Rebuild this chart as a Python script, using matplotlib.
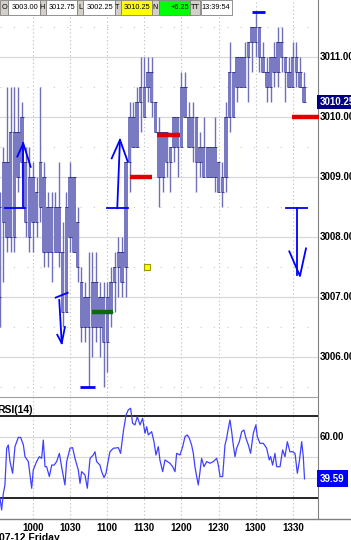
import matplotlib
matplotlib.use("Agg")
import matplotlib.pyplot as plt
import matplotlib.transforms as mtrans
from matplotlib.patches import Rectangle

plt.rcParams['font.family'] = ['Liberation Sans', 'DejaVu Sans']

W, H, DPI = 351, 540, 100

# 3-minute bars, 09:33 .. 13:39 (minutes since midnight)
bar_start = 9 * 60 + 33
bar_step = 3
opens = [3007.0, 3008.25, 3009.25, 3008.0, 3009.75, 3009.0, 3010.0, 3009.25, 3008.0, 3009.0,
         3008.25, 3008.5, 3009.0, 3007.75, 3008.5, 3007.75, 3008.5, 3007.75, 3006.75, 3008.0,
         3009.0, 3008.25, 3007.25, 3006.5, 3007.0, 3006.5, 3007.25, 3006.5, 3007.0, 3006.25,
         3006.75, 3007.25, 3007.5, 3007.75, 3007.5, 3009.25, 3010.0, 3009.5, 3010.25, 3010.0,
         3010.5, 3010.75, 3010.25, 3009.75, 3009.0, 3009.75, 3009.25, 3009.5, 3010.0, 3009.5,
         3010.5, 3010.0, 3009.5, 3010.0, 3009.25, 3009.5, 3009.0, 3009.5, 3009.0, 3009.25,
         3008.75, 3009.0, 3010.0, 3010.75, 3010.5, 3011.0, 3010.5, 3011.0, 3011.25, 3011.5,
         3011.5, 3011.0, 3010.75, 3010.5, 3011.0, 3010.75, 3011.25, 3011.0, 3010.75, 3010.5,
         3011.0, 3010.75, 3010.5]
highs = [3008.75, 3009.5, 3010.5, 3010.5, 3010.5, 3010.5, 3010.25, 3009.5, 3009.5, 3009.25,
         3009.0, 3010.5, 3009.25, 3008.75, 3008.75, 3008.75, 3009.25, 3008.25, 3008.75, 3009.25,
         3009.0, 3008.5, 3007.5, 3007.25, 3007.75, 3007.75, 3007.75, 3007.25, 3007.25, 3007.25,
         3007.5, 3007.75, 3008.0, 3008.0, 3009.25, 3010.25, 3010.25, 3010.5, 3011.0, 3011.0,
         3011.0, 3011.0, 3010.25, 3010.0, 3009.75, 3009.75, 3009.5, 3010.0, 3010.0, 3010.75,
         3010.75, 3010.25, 3010.25, 3010.0, 3009.75, 3010.0, 3009.5, 3009.5, 3010.0, 3009.25,
         3009.25, 3010.25, 3011.25, 3010.75, 3011.0, 3011.0, 3011.25, 3011.25, 3011.5, 3011.75,
         3011.5, 3011.25, 3011.0, 3011.0, 3011.25, 3011.5, 3011.5, 3011.0, 3011.0, 3011.25,
         3011.25, 3011.0, 3010.75]
lows = [3006.5, 3007.25, 3007.75, 3007.75, 3007.75, 3008.75, 3009.0, 3008.0, 3007.75, 3007.75,
        3008.0, 3008.25, 3007.5, 3007.5, 3007.25, 3007.75, 3007.5, 3006.5, 3006.75, 3007.75,
        3007.75, 3007.25, 3006.25, 3006.25, 3005.5, 3006.0, 3006.25, 3006.0, 3005.5, 3005.75,
        3006.5, 3006.75, 3007.0, 3007.0, 3007.0, 3008.75, 3009.5, 3009.5, 3009.75, 3010.0,
        3010.25, 3010.0, 3009.75, 3008.5, 3008.75, 3009.0, 3008.75, 3009.25, 3009.0, 3009.5,
        3010.0, 3009.5, 3009.25, 3008.75, 3009.0, 3009.0, 3009.0, 3009.0, 3008.75, 3008.75,
        3008.5, 3008.75, 3009.75, 3010.0, 3010.25, 3010.5, 3010.5, 3010.25, 3010.75, 3011.0,
        3010.75, 3010.75, 3010.25, 3010.25, 3010.5, 3010.5, 3010.75, 3010.25, 3010.5, 3010.5,
        3010.5, 3010.5, 3010.25]
closes = [3008.5, 3009.25, 3008.0, 3009.75, 3008.0, 3009.75, 3009.25, 3008.25, 3009.0, 3008.25,
          3008.75, 3009.25, 3007.75, 3008.5, 3007.75, 3008.5, 3007.75, 3006.75, 3008.5, 3009.0,
          3007.75, 3007.5, 3006.5, 3007.0, 3006.5, 3007.25, 3006.5, 3007.0, 3006.25, 3007.0,
          3007.25, 3007.5, 3007.75, 3007.25, 3009.25, 3010.0, 3009.5, 3010.25, 3010.5, 3010.5,
          3010.75, 3010.25, 3009.75, 3009.0, 3009.75, 3009.25, 3009.5, 3010.0, 3009.5, 3010.5,
          3010.0, 3009.5, 3010.0, 3009.25, 3009.5, 3009.0, 3009.5, 3009.0, 3009.5, 3008.75,
          3009.0, 3010.0, 3010.75, 3010.0, 3011.0, 3010.5, 3011.0, 3011.25, 3011.5, 3011.25,
          3011.0, 3010.75, 3010.5, 3011.0, 3010.75, 3011.25, 3011.0, 3010.75, 3010.5, 3011.0,
          3010.75, 3010.5, 3010.25]

# RSI(14) line, traced (time in minutes since midnight, value)
rsi_t = [573.3, 574.6, 576.0, 577.3, 578.7, 580.0, 581.4, 583.5, 585.4, 588.1, 590.0, 592.2,
         593.5, 596.2, 598.9, 600.2, 602.9, 605.1, 607.0, 608.3, 609.7, 611.0, 613.2, 615.1,
         617.0, 619.1, 621.3, 623.1, 625.8, 627.2, 629.9, 632.0, 633.9, 636.6, 638.0, 639.3,
         642.0, 643.9, 646.1, 648.7, 650.1, 651.4, 654.1, 655.5, 657.4, 659.0, 660.9, 662.2,
         664.9, 669.0, 670.8, 673.0, 675.2, 677.0, 678.9, 680.5, 682.4, 684.3, 686.5, 688.6,
         690.5, 691.9, 693.2, 695.9, 697.8, 699.4, 701.3, 702.6, 704.8, 706.7, 708.6, 710.7,
         712.9, 714.8, 716.1, 718.8, 721.0, 722.9, 724.7, 726.4, 728.2, 729.6, 730.9, 732.3,
         733.6, 735.0, 736.3, 738.2, 740.4, 743.1, 745.8, 748.5, 749.8, 751.2, 753.3, 755.2,
         756.5, 757.9, 759.2, 760.6, 761.9, 763.3, 764.6, 766.8, 768.7, 770.5, 772.2, 774.1,
         775.9, 778.1, 780.2, 781.3, 783.5, 786.2, 788.9, 791.0, 792.1, 793.7, 795.6, 797.0,
         799.7, 801.8, 803.7, 805.6, 807.7, 809.9, 811.8, 813.7, 815.3, 817.2, 818.5, 819.5]
rsi_v = [30.1, 24.4, 32.5, 36.6, 54.5, 56.1, 48.0, 42.3, 55.3, 59.8, 59.8, 56.1,
         50.4, 48.0, 35.0, 43.9, 48.0, 50.4, 49.6, 58.5, 45.5, 45.5, 40.7, 46.3,
         46.3, 48.0, 52.0, 45.5, 36.6, 48.0, 54.5, 54.8, 49.6, 43.9, 37.4, 43.1,
         41.5, 35.0, 49.6, 51.2, 52.8, 48.0, 46.3, 43.1, 40.2, 42.3, 48.8, 52.8,
         54.5, 54.8, 52.0, 62.6, 70.7, 73.2, 74.0, 66.7, 65.9, 69.9, 65.9, 69.1,
         61.8, 65.0, 61.0, 62.6, 57.7, 51.2, 55.3, 48.8, 43.1, 48.8, 48.0, 47.2,
         45.5, 43.1, 52.0, 51.2, 55.3, 60.2, 61.0, 59.3, 56.1, 52.0, 45.5, 40.7,
         36.6, 43.1, 49.6, 45.5, 48.0, 47.2, 48.0, 49.6, 46.3, 40.7, 40.7, 56.1,
         59.3, 64.2, 68.3, 62.6, 56.1, 50.4, 54.5, 57.7, 62.6, 63.4, 59.3, 56.1,
         52.0, 61.8, 65.9, 60.2, 56.9, 56.9, 54.5, 48.8, 50.4, 46.3, 52.0, 45.5,
         45.5, 53.7, 50.4, 57.7, 52.8, 52.8, 52.0, 42.3, 48.0, 57.7, 50.4, 39.59]

tick_times = [600, 630, 660, 690, 720, 750, 780, 810]
tick_labels = ["1000", "1030", "1100", "1130", "1200", "1230", "1300", "1330"]
price_labels = [3006, 3007, 3008, 3009, 3010, 3011, 3012]
last_price = 3010.25
last_rsi = 39.59

# drawn levels (start, end, price)
red_levels = [(678, 696, 3009.0), (700, 719, 3009.7), (809, 831, 3010.0)]
green_level = (648, 665, 3006.75)
yellow_mark = (692.5, 3007.5)
hi_lo_marks = [(638, 650, 3005.5), (777, 787.5, 3011.75)]
# hand-drawn arrows: list of polylines (times, prices)
arrows = [
    [([577.3, 593.5], [3008.48, 3008.48]), ([592.1, 592.1], [3008.48, 3009.56]),
     ([587.3, 592.1, 598.1], [3009.34, 3009.56, 3009.17])],
    [([660.0, 677.0], [3008.48, 3008.48]), ([668.1, 670.3], [3008.48, 3009.62]),
     ([663.6, 670.3, 676.5], [3009.31, 3009.62, 3009.26])],
    [([618.3, 628.0], [3006.99, 3007.07]), ([621.2, 623.2], [3006.95, 3006.23]),
     ([619.6, 623.2, 625.8], [3006.37, 3006.23, 3006.5])],
    [([804.5, 821.2], [3008.48, 3008.48]), ([813.6, 813.6], [3008.48, 3007.37]),
     ([807.2, 815.8, 820.7], [3007.76, 3007.35, 3007.81])],
]

header_labels = ["O", "H", "L", "T", "N", "TT"]
header_values = ["3003.00", "3012.75", "3002.25", "3010.25", "+6.25", "13:39:54"]
header_colors = ["white", "white", "white", "#ffff00", "#00ff00", "white"]


def fx(px):
    return px / W


def fy(py):
    return 1 - py / H


fig = plt.figure(figsize=(W / DPI, H / DPI), dpi=DPI)
fig.patch.set_facecolor("white")

ax = fig.add_axes([0, fy(396), fx(318), 396 / H])
rs = fig.add_axes([0, fy(519), fx(318), (519 - 397) / H])

xlim = (573.3, 830.4)
for a in (ax, rs):
    a.set_xlim(*xlim)
    a.set_xticks([])
    a.set_yticks([])
    for s in ("left", "top", "bottom"):
        a.spines[s].set_visible(False)
    a.spines["right"].set_color("#808080")
    for t in tick_times:
        a.axvline(t, color="#c4c4c4", lw=0.8, ls=(0, (1.2, 2.2)), zorder=0)
rs.spines["top"].set_visible(True)
rs.spines["top"].set_color("#a0a0a0")

ax.set_ylim(3005.35, 3011.95)
for p in range(3006, 3012):
    ax.axhline(p, color="#d8d8d8", lw=0.9, zorder=0)
    ax.axhline(p + 0.5, color="#c8c8c8", lw=0.8, ls=(0, (1, 11)), zorder=0)
ax.axhline(3005.5, color="#c8c8c8", lw=0.8, ls=(0, (1, 11)), zorder=0)

# bars
fill_c = "#7a7ac2"
tick_c = "#2a2a90"
bw = 2.8
xs = [bar_start + bar_step * i for i in range(len(opens))]
ax.vlines(xs, lows, highs, color="#7070b8", lw=1.0, zorder=2)
bottoms = [min(o, c) for o, c in zip(opens, closes)]
heights = [abs(c - o) for o, c in zip(opens, closes)]
ax.bar(xs, heights, bottom=bottoms, width=bw, color=fill_c, lw=0, zorder=2)
ax.hlines(opens, [x - bw / 2 for x in xs], [x + bw / 2 for x in xs], color=tick_c, lw=0.6, zorder=3)
ax.hlines(closes, [x - bw / 2 for x in xs], [x + bw / 2 for x in xs], color=tick_c, lw=0.6, zorder=3)

for t0, t1, p in red_levels:
    ax.plot([t0, t1], [p, p], color="#e00000", lw=3.2, solid_capstyle="butt", zorder=4, clip_on=False)
g0, g1, gp = green_level
ax.plot([g0, g1], [gp, gp], color="#0c6a0c", lw=3.2, solid_capstyle="butt", zorder=4)
ax.plot([yellow_mark[0]], [yellow_mark[1]], marker="s", ms=5, mfc="#ffff00", mec="#9a9a00", mew=0.8, zorder=4)
for t0, t1, p in hi_lo_marks:
    ax.plot([t0, t1], [p, p], color="#0000ff", lw=2.0, solid_capstyle="butt", zorder=5)
for arrow in arrows:
    for tt, pp in arrow:
        ax.plot(tt, pp, color="#0000ff", lw=1.3, zorder=5)

# right price labels
bl = mtrans.blended_transform_factory(ax.transAxes, ax.transData)
for p in price_labels:
    ax.text(1.006, p, f"{p:.2f}", transform=bl, ha="left", va="center",
            fontsize=7, fontweight="bold", clip_on=False)
ax.text(1.006, last_price, f"{last_price:.2f}", transform=bl, ha="left", va="center",
        fontsize=7, fontweight="bold", color="white", clip_on=False, zorder=6,
        bbox=dict(boxstyle="square,pad=0.25", fc="#000080", ec="none"))

# RSI panel
rs.set_ylim(20, 79.5)
for v in (40, 50, 60):
    rs.axhline(v, color="#d8d8d8", lw=0.9, zorder=0)
for v in (30, 70):
    rs.axhline(v, color="black", lw=1.2, zorder=1)
rs.plot(rsi_t, rsi_v, color="#4040ff", lw=0.9, zorder=3)
rbl = mtrans.blended_transform_factory(rs.transAxes, rs.transData)
rs.text(1.006, 60, "60.00", transform=rbl, ha="left", va="center",
        fontsize=7, fontweight="bold", clip_on=False)
rs.text(1.006, last_rsi, f"{last_rsi:.2f}", transform=rbl, ha="left", va="center",
        fontsize=7, fontweight="bold", color="white", clip_on=False,
        bbox=dict(boxstyle="square,pad=0.35", fc="#0000ff", ec="none"))
rs.text(-0.008, 0.893, "RSI(14)", transform=rs.transAxes, ha="left", va="center",
        fontsize=7.5, fontweight="bold")

tbl = mtrans.blended_transform_factory(rs.transData, rs.transAxes)
for t, lab in zip(tick_times, tick_labels):
    rs.text(t, -0.07, lab, transform=tbl, ha="center", va="center",
            fontsize=7, fontweight="bold", clip_on=False)
fig.text(fx(-1), fy(533), "07-12 Friday", ha="left", va="top", fontsize=7.5, fontweight="bold")
fig.add_artist(plt.Line2D([0, 1], [fy(519), fy(519)], color="#808080", lw=1))

# header strip
lab_w = [8, 6, 6, 6, 7, 10]
val_w = 31.5
x0 = 0
for lab, val, col, lw_ in zip(header_labels, header_values, header_colors, lab_w):
    fig.add_artist(Rectangle((fx(x0), fy(15)), fx(lw_), 15 / H, transform=fig.transFigure,
                             fc="#d4d0c8", ec="#808080", lw=0.6))
    fig.text(fx(x0 + lw_ / 2), fy(7.5), lab, ha="center", va="center", fontsize=5.3)
    x0 += lw_
    fig.add_artist(Rectangle((fx(x0), fy(15)), fx(val_w), 15 / H, transform=fig.transFigure,
                             fc=col, ec="#808080", lw=0.6))
    fig.text(fx(x0 + val_w - 1.5), fy(7.5), val, ha="right", va="center", fontsize=5.3)
    x0 += val_w

fig.savefig("out.png", dpi=DPI)
